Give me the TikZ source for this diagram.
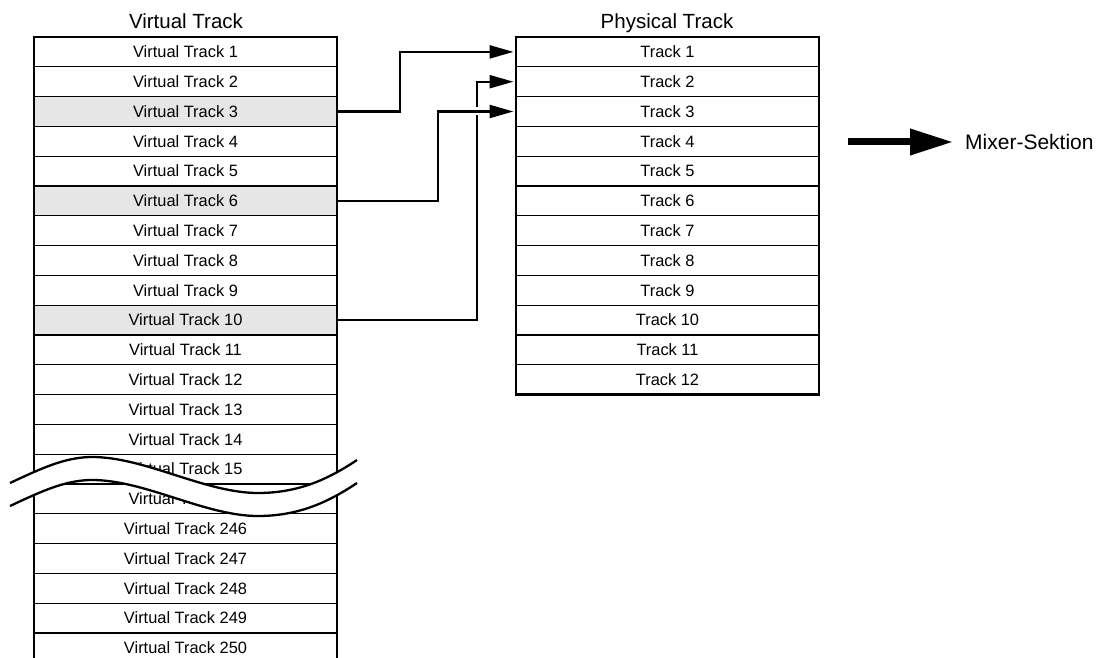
\documentclass[tikz,border=0pt]{standalone}
\usepackage{fontspec}
\setmainfont{Liberation Sans}
\usetikzlibrary{arrows.meta,calc}
\definecolor{shade}{RGB}{230,230,230}
\begin{document}
\begin{tikzpicture}[x=1pt,y=-1pt,
  row/.style={draw=black, line width=1.1pt, minimum width=303pt, minimum height=29.8pt,
    inner sep=0pt, outer sep=0pt, font=\fontsize{16.4}{19}\selectfont, anchor=north west},
  title/.style={font=\fontsize{20.5}{24}\selectfont, anchor=base, inner sep=0pt},
  outer/.style={line width=2.3pt},
  conn/.style={line width=2.3pt, -{Triangle[length=24pt,width=13pt]}, shorten >=2.5pt},
  wave/.style={line width=2.3pt},
]
\useasboundingbox (0,0) rectangle (1103,658);
\clip (0,0) rectangle (1103,658);

% titles
\node[title] (vt) at (186,28.3) {Virtual Track};
\node[title] (pt) at (667,28.3) {Physical Track};

% virtual tracks
\foreach \i/\lab/\f in {1/1/white,2/2/white,3/3/shade,4/4/white,5/5/white,6/6/shade,7/7/white,
  8/8/white,9/9/white,10/10/shade,11/11/white,12/12/white,13/13/white,14/14/white,15/15/white,
  16/16/white,17/246/white,18/247/white,19/248/white,20/249/white,21/250/white}
  \node[row, fill=\f] (v\i) at (34,{37+(\i-1)*29.8}) {Virtual Track \lab};
\draw[outer] (v21.south west) -- (v1.north west) -- (v1.north east) -- (v21.south east);

% physical tracks
\foreach \i in {1,...,12}
  \node[row] (p\i) at (516,{37+(\i-1)*29.8}) {Track \i};
\draw[outer] (p1.north west) rectangle (p12.south east);

% break mark
\fill[white] (10,483) .. controls (40,469) and (65,457) .. (92,457)
  .. controls (145,457) and (205,493) .. (258,493)
  .. controls (300,493) and (330,478) .. (357,460)
  -- (357,483) .. controls (330,501) and (300,516) .. (258,516)
  .. controls (205,516) and (145,480) .. (92,480)
  .. controls (65,480) and (40,492) .. (10,506) -- cycle;
\draw[wave] (10,483) .. controls (40,469) and (65,457) .. (92,457)
  .. controls (145,457) and (205,493) .. (258,493)
  .. controls (300,493) and (330,478) .. (357,460);
\draw[wave] (10,506) .. controls (40,492) and (65,480) .. (92,480)
  .. controls (145,480) and (205,516) .. (258,516)
  .. controls (300,516) and (330,501) .. (357,483);

% connectors
\draw[conn] (v10.east) -- ++(140,0) |- (p2.west);
\draw[white, line width=8pt] ($(p3.west)+(-44,0)$) -- ($(p3.west)+(-34,0)$);
\draw[conn] (v6.east) -- ++(101,0) |- (p3.west);
\draw[conn] (v3.east) -- ++(63,0) |- (p1.west);

% mixer
\node[font=\fontsize{21}{25}\selectfont, anchor=west, inner sep=0pt] (mix) at (965,142) {Mixer-Sektion};
\coordinate (ms) at (848,142);
\draw[line width=7pt, -{Triangle[length=43pt,width=25pt]}, shorten >=12pt] (ms) -- (mix.west);
\end{tikzpicture}
\end{document}
